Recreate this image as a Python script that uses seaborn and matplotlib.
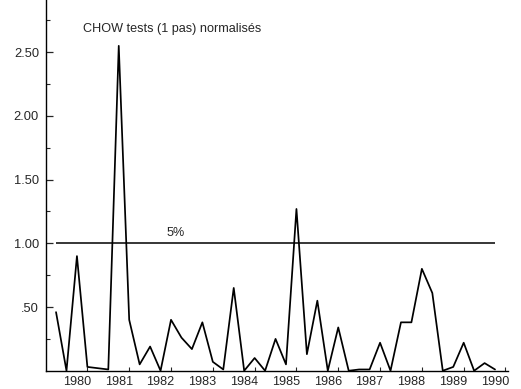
import numpy as np
import pandas as pd
import matplotlib
matplotlib.use("Agg")
import matplotlib.pyplot as plt
import seaborn as sns

# Quarterly one-step Chow statistics, normalised by the 5% critical value
quarters = pd.period_range("1979Q3", "1990Q1", freq="Q")
chow = [0.46, 0.00, 0.90, 0.03, 0.02, 0.01, 2.55, 0.40, 0.05, 0.19,
        0.00, 0.40, 0.26, 0.17, 0.38, 0.07, 0.01, 0.65, 0.00, 0.10,
        0.00, 0.25, 0.05, 1.27, 0.13, 0.55, 0.00, 0.34, 0.00, 0.01,
        0.01, 0.22, 0.00, 0.38, 0.38, 0.80, 0.61, 0.00, 0.03, 0.22,
        0.00, 0.06, 0.01]
years = list(range(1980, 1991))
year_labels = [str(y) for y in years]
y_major = [0.5, 1.0, 1.5, 2.0, 2.5]
y_major_labels = [".50", "1.00", "1.50", "2.00", "2.50"]
critical = 1.0
title = "CHOW tests (1 pas) normalisés"
crit_label = "5%"

sns.set_style("ticks")
plt.rcParams["font.family"] = ["Liberation Sans", "DejaVu Sans"]

df = pd.DataFrame({
    "t": [p.year + (p.quarter - 1) / 4 for p in quarters],
    "chow": chow,
})

fig = plt.figure(figsize=(5.21, 3.89), dpi=100)
ax = fig.add_axes([46 / 521, 1 - 370.75 / 389, (508 - 46) / 521, 370.75 / 389])

sns.lineplot(data=df, x="t", y="chow", color="black", linewidth=1.25, ax=ax)
ax.hlines(critical, df["t"].iloc[0], df["t"].iloc[-1], color="black", linewidth=1.1)

ax.set_xlim(1979.26, 1990.31)
ax.set_ylim(0, 2.91)

ax.set_xticks(years)
ax.set_xticklabels(year_labels)
ax.set_xticks([y + 0.25 for y in years], minor=True)
ax.tick_params(axis="x", which="major", length=0, pad=4, labelsize=9.1)
ax.tick_params(axis="x", which="minor", direction="in", length=3, width=0.8)

ax.set_yticks(y_major)
ax.set_yticklabels(y_major_labels)
ax.set_yticks(np.arange(0.25, 2.9, 0.5), minor=True)
ax.tick_params(axis="y", which="major", direction="in", length=5, width=0.9, pad=5, labelsize=9.3)
ax.tick_params(axis="y", which="minor", direction="in", length=3, width=0.8)

ax.set_xlabel("")
ax.set_ylabel("")
sns.despine(ax=ax)
for s in ("left", "bottom"):
    ax.spines[s].set_linewidth(1.0)
    ax.spines[s].set_color("black")

ax.text(1980.15, 2.68, title, ha="left", va="center", fontsize=9.1)
ax.text(1982.37, 1.08, crit_label, ha="center", va="center", fontsize=9.1)

fig.savefig("out.png", dpi=100)
